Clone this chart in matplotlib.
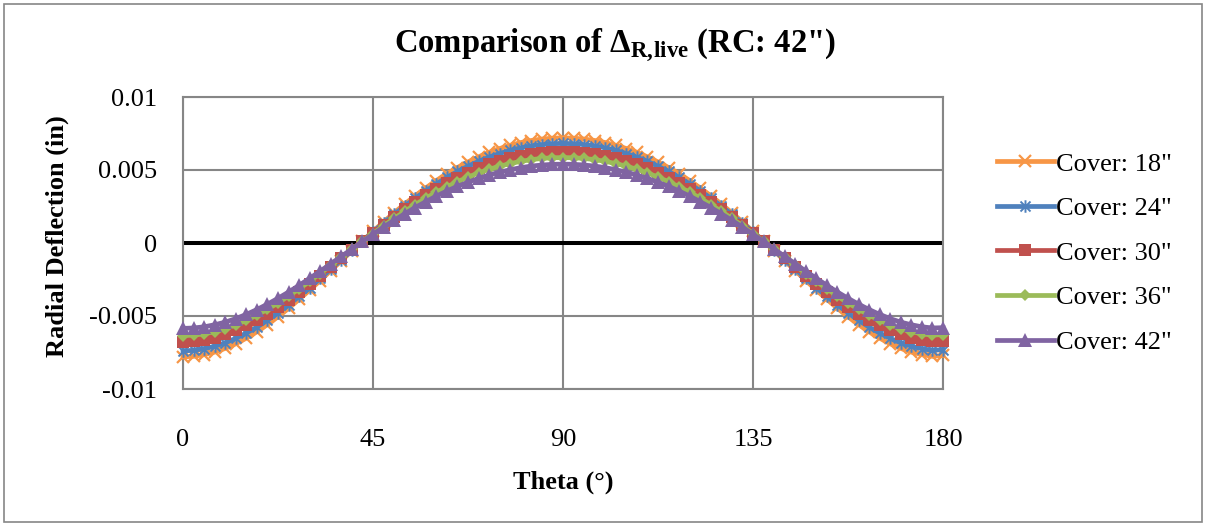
import matplotlib
matplotlib.use("Agg")
import matplotlib.pyplot as plt
from matplotlib.path import Path
from matplotlib.patches import Rectangle

plt.rcParams["font.family"] = ["Liberation Serif", "DejaVu Serif"]
plt.rcParams["mathtext.fontset"] = "custom"
plt.rcParams["mathtext.rm"] = "Liberation Serif"
plt.rcParams["mathtext.bf"] = "Liberation Serif:bold"

# Angle around the ring (degrees), every 2.5 degrees
theta = [i * 2.5 for i in range(73)]

# Radial live-load deflection (in) for each cover depth
cover_18 = [
    -0.00780, -0.00776, -0.00765, -0.00747, -0.00722, -0.00690, -0.00652, -0.00608, -0.00559, -0.00505,
    -0.00448, -0.00386, -0.00323, -0.00257, -0.00189, -0.00122, -0.00054, 0.00014, 0.00080, 0.00145,
    0.00207, 0.00267, 0.00324, 0.00377, 0.00428, 0.00474, 0.00517, 0.00555, 0.00590, 0.00621,
    0.00647, 0.00669, 0.00688, 0.00702, 0.00712, 0.00718, 0.00720,
    0.00718, 0.00712, 0.00702, 0.00688, 0.00669, 0.00647, 0.00621, 0.00590, 0.00555, 0.00517,
    0.00474, 0.00428, 0.00377, 0.00324, 0.00267, 0.00207, 0.00145, 0.00080, 0.00014, -0.00054,
    -0.00122, -0.00189, -0.00257, -0.00323, -0.00386, -0.00448, -0.00505, -0.00559, -0.00608, -0.00652,
    -0.00690, -0.00722, -0.00747, -0.00765, -0.00776, -0.00770,
]
cover_24 = [
    -0.00739, -0.00735, -0.00724, -0.00707, -0.00684, -0.00653, -0.00617, -0.00576, -0.00529, -0.00478,
    -0.00424, -0.00366, -0.00306, -0.00243, -0.00179, -0.00116, -0.00051, 0.00013, 0.00076, 0.00137,
    0.00196, 0.00253, 0.00307, 0.00357, 0.00405, 0.00449, 0.00490, 0.00526, 0.00559, 0.00588,
    0.00613, 0.00634, 0.00652, 0.00665, 0.00674, 0.00680, 0.00682,
    0.00680, 0.00674, 0.00665, 0.00652, 0.00634, 0.00613, 0.00588, 0.00559, 0.00526, 0.00490,
    0.00449, 0.00405, 0.00357, 0.00307, 0.00253, 0.00196, 0.00137, 0.00076, 0.00013, -0.00051,
    -0.00116, -0.00179, -0.00243, -0.00306, -0.00366, -0.00424, -0.00478, -0.00529, -0.00576, -0.00617,
    -0.00653, -0.00684, -0.00707, -0.00724, -0.00735, -0.00730,
]
cover_30 = [
    -0.00676, -0.00673, -0.00663, -0.00648, -0.00626, -0.00598, -0.00565, -0.00527, -0.00485, -0.00438,
    -0.00388, -0.00335, -0.00280, -0.00223, -0.00164, -0.00106, -0.00047, 0.00012, 0.00069, 0.00126,
    0.00179, 0.00231, 0.00281, 0.00327, 0.00371, 0.00411, 0.00448, 0.00481, 0.00512, 0.00538,
    0.00561, 0.00580, 0.00596, 0.00609, 0.00617, 0.00623, 0.00624,
    0.00623, 0.00617, 0.00609, 0.00596, 0.00580, 0.00561, 0.00538, 0.00512, 0.00481, 0.00448,
    0.00411, 0.00371, 0.00327, 0.00281, 0.00231, 0.00179, 0.00126, 0.00069, 0.00012, -0.00047,
    -0.00106, -0.00164, -0.00223, -0.00280, -0.00335, -0.00388, -0.00438, -0.00485, -0.00527, -0.00565,
    -0.00598, -0.00626, -0.00648, -0.00663, -0.00673, -0.00668,
]
cover_36 = [
    -0.00634, -0.00631, -0.00622, -0.00607, -0.00587, -0.00561, -0.00530, -0.00494, -0.00454, -0.00411,
    -0.00364, -0.00314, -0.00263, -0.00209, -0.00154, -0.00099, -0.00044, 0.00011, 0.00065, 0.00118,
    0.00168, 0.00217, 0.00263, 0.00307, 0.00348, 0.00385, 0.00420, 0.00451, 0.00480, 0.00505,
    0.00526, 0.00544, 0.00559, 0.00571, 0.00579, 0.00584, 0.00585,
    0.00584, 0.00579, 0.00571, 0.00559, 0.00544, 0.00526, 0.00505, 0.00480, 0.00451, 0.00420,
    0.00385, 0.00348, 0.00307, 0.00263, 0.00217, 0.00168, 0.00118, 0.00065, 0.00011, -0.00044,
    -0.00099, -0.00154, -0.00209, -0.00263, -0.00314, -0.00364, -0.00411, -0.00454, -0.00494, -0.00530,
    -0.00561, -0.00587, -0.00607, -0.00622, -0.00631, -0.00627,
]
cover_42 = [
    -0.00585, -0.00582, -0.00574, -0.00560, -0.00542, -0.00518, -0.00489, -0.00456, -0.00419, -0.00379,
    -0.00336, -0.00290, -0.00242, -0.00193, -0.00142, -0.00092, -0.00041, 0.00011, 0.00060, 0.00109,
    0.00155, 0.00200, 0.00243, 0.00283, 0.00321, 0.00356, 0.00388, 0.00416, 0.00443, 0.00466,
    0.00485, 0.00502, 0.00516, 0.00527, 0.00534, 0.00539, 0.00540,
    0.00539, 0.00534, 0.00527, 0.00516, 0.00502, 0.00485, 0.00466, 0.00443, 0.00416, 0.00388,
    0.00356, 0.00321, 0.00283, 0.00243, 0.00200, 0.00155, 0.00109, 0.00060, 0.00011, -0.00041,
    -0.00092, -0.00142, -0.00193, -0.00242, -0.00290, -0.00336, -0.00379, -0.00419, -0.00456, -0.00489,
    -0.00518, -0.00542, -0.00560, -0.00574, -0.00582, -0.00580,
]

labels = ['Cover: 18"', 'Cover: 24"', 'Cover: 30"', 'Cover: 36"', 'Cover: 42"']
x_ticks = [0, 45, 90, 135, 180]
y_ticks = [-0.01, -0.005, 0, 0.005, 0.01]
y_tick_labels = ["-0.01", "-0.005", "0", "0.005", "0.01"]

# Six-armed star marker (X plus a vertical stroke)
star = Path(
    [(-1, -1), (1, 1), (-1, 1), (1, -1), (0, -1.25), (0, 1.25)],
    [Path.MOVETO, Path.LINETO, Path.MOVETO, Path.LINETO, Path.MOVETO, Path.LINETO],
)

styles = [
    dict(color="#F79646", marker="x", ms=9, mew=1.6),
    dict(color="#4F81BD", marker=star, ms=9, mew=1.4),
    dict(color="#C0504D", marker="s", ms=8, mew=0),
    dict(color="#9BBB59", marker="D", ms=6, mew=0),
    dict(color="#8064A2", marker="^", ms=10, mew=0),
]

W, H = 1205, 525
fig = plt.figure(figsize=(W / 100, H / 100), dpi=100)
fig.patches.append(Rectangle((4 / W, 3 / H), 1198 / W, 518 / H, transform=fig.transFigure,
                             fill=False, edgecolor="#868686", lw=1.2))

ax = fig.add_axes([183 / W, 1 - 389 / H, (943 - 183) / W, (389 - 97) / H])
grid_c = "#868686"
ax.set_xlim(0, 180)
ax.set_ylim(-0.01, 0.01)
ax.set_xticks(x_ticks)
ax.set_yticks(y_ticks)
ax.set_yticklabels(y_tick_labels)
ax.grid(True, color=grid_c, lw=1.5)
ax.set_axisbelow(True)
for s in ax.spines.values():
    s.set_color(grid_c)
    s.set_linewidth(1.5)
ax.tick_params(length=0, labelsize=19)
ax.tick_params(axis="y", pad=18.5)
ax.tick_params(axis="x", pad=29)
ax.axhline(0, color="black", lw=2.9, zorder=1.5)

for ys, lab, st in zip([cover_18, cover_24, cover_30, cover_36, cover_42], labels, styles):
    ax.plot(theta, ys, color=st["color"], lw=3.4, marker=st["marker"], ms=st["ms"],
            mew=st["mew"], mec=st["color"], mfc=st["color"], label=lab, clip_on=False, zorder=3)

fig.legend(loc="center left", bbox_to_anchor=(997 / W, 1 - 253 / H), frameon=False,
           fontsize=19, handlelength=2.15, handletextpad=0.1, labelspacing=0.8,
           borderpad=0, borderaxespad=0)

fig.text(615 / W, 1 - 52 / H, r'Comparison of Δ$_{\mathbf{R,\!live}}$ (RC: 42")',
         ha="center", va="baseline", fontsize=23.5, fontweight="bold")
fig.text(57 / W, 1 - 236 / H, "Radial Deflection (in)", rotation=90, ha="center", va="center",
         fontsize=19, fontweight="bold")
fig.text(563 / W, 1 - 482 / H, "Theta (°)", ha="center", va="center", fontsize=19, fontweight="bold")

fig.savefig("out.png", dpi=100)
